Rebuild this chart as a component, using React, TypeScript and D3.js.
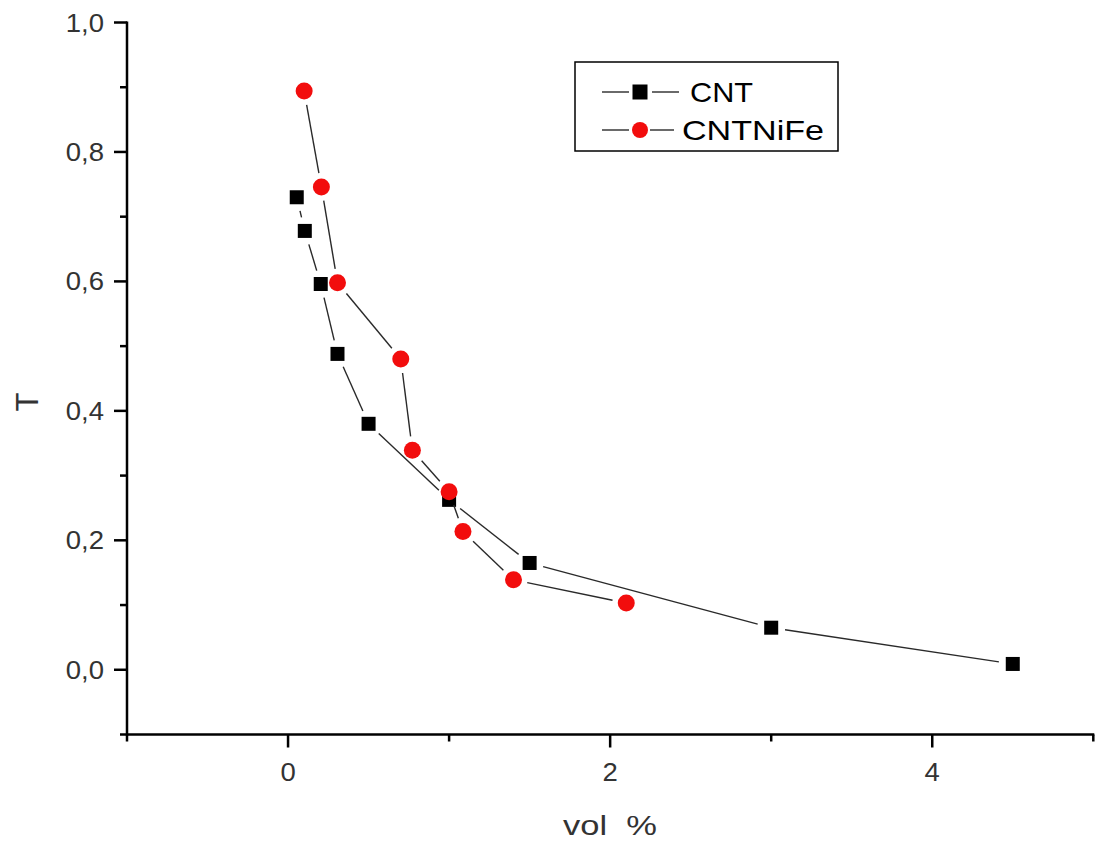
import React from "react";
import * as d3 from "d3";

const cntX = [0.054, 0.104, 0.203, 0.307, 0.5, 1.0, 1.5, 3.0, 4.5];
const cntT = [0.730, 0.678, 0.596, 0.488, 0.380, 0.2625, 0.165, 0.065, 0.009];

const nifeX = [0.1, 0.207, 0.307, 0.70, 0.772, 1.0, 1.086, 1.40, 2.10];
const nifeT = [0.894, 0.746, 0.598, 0.480, 0.339, 0.275, 0.2136, 0.139, 0.103];

const xMajor = [0, 2, 4];
const xMinor = [-1, 1, 3, 5];
const yMajor = [0, 0.2, 0.4, 0.6, 0.8, 1.0];
const yMinor = [-0.1, 0.1, 0.3, 0.5, 0.7, 0.9];

const seriesNames = ["CNT", "CNTNiFe"];

const W = 1097;
const H = 843;
const left = 127;
const right = 1093.3;
const top = 22.5;
const bottom = 734.5;

const FONT = "'Liberation Sans', Arial, sans-serif";

export default function App() {
  const x = d3.scaleLinear().domain([-1, 5]).range([left, right]);
  const y = d3.scaleLinear().domain([-0.1, 1.0]).range([bottom, top]);
  const fmtY = (v: number) => d3.format(".1f")(v).replace(".", ",");

  const segs = (xs: number[], ys: number[], gap: number) => {
    const pts = xs.map((v, i) => [x(v), y(ys[i])]);
    const out: string[] = [];
    for (let i = 0; i < pts.length - 1; i++) {
      const [x1, y1] = pts[i];
      const [x2, y2] = pts[i + 1];
      const dx = x2 - x1, dy = y2 - y1;
      const L = Math.hypot(dx, dy);
      if (L <= 2 * gap) continue;
      const ux = dx / L, uy = dy / L;
      const p = d3.path();
      p.moveTo(x1 + ux * gap, y1 + uy * gap);
      p.lineTo(x2 - ux * gap, y2 - uy * gap);
      out.push(p.toString());
    }
    return out;
  };

  const sq = 14;
  const cr = 8.5;
  const lineColor = "#2a2a2a";

  return (
    <svg width={W} height={H} style={{ position: "absolute", left: 0, top: 0, background: "#fff" }}>
      <rect width={W} height={H} fill="#fff" />
      {/* axes */}
      <line x1={left} x2={left} y1={top - 1} y2={bottom + 1} stroke="#000" strokeWidth={2.5} />
      <line x1={left - 1} x2={right + 1} y1={bottom} y2={bottom} stroke="#000" strokeWidth={2.5} />
      {yMajor.map((v) => (
        <g key={"ym" + v}>
          <line x1={left - 13} x2={left} y1={y(v)} y2={y(v)} stroke="#000" strokeWidth={2.5} />
          <text
            transform={`translate(${left - 23},${y(v) + 9}) scale(1.1,1)`}
            textAnchor="end"
            fontFamily={FONT}
            fontSize={25}
            fill="#333"
          >
            {fmtY(v)}
          </text>
        </g>
      ))}
      {yMinor.map((v) => (
        <line key={"yn" + v} x1={left - 7} x2={left} y1={y(v)} y2={y(v)} stroke="#000" strokeWidth={2.5} />
      ))}
      {xMajor.map((v) => (
        <g key={"xm" + v}>
          <line x1={x(v)} x2={x(v)} y1={bottom} y2={bottom + 13} stroke="#000" strokeWidth={2.5} />
          <text
            transform={`translate(${x(v)},${bottom + 46}) scale(1.1,1)`}
            textAnchor="middle"
            fontFamily={FONT}
            fontSize={25}
            fill="#333"
          >
            {String(v)}
          </text>
        </g>
      ))}
      {xMinor.map((v) => (
        <line key={"xn" + v} x1={x(v)} x2={x(v)} y1={bottom} y2={bottom + 7} stroke="#000" strokeWidth={2.5} />
      ))}
      {/* axis titles */}
      <text
        x={610}
        y={835}
        textAnchor="middle"
        fontFamily={FONT}
        fontSize={27}
        fill="#333"
        textLength={94}
        lengthAdjust="spacingAndGlyphs"
        style={{ whiteSpace: "pre" }}
        xmlSpace="preserve"
      >
        {"vol  %"}
      </text>
      <text
        transform="translate(38,402) rotate(-90)"
        textAnchor="middle"
        fontFamily={FONT}
        fontSize={31}
        fill="#333"
      >
        T
      </text>

      {/* CNT series */}
      {segs(cntX, cntT, 14).map((d, i) => (
        <path key={"cl" + i} d={d} stroke={lineColor} strokeWidth={1.4} fill="none" />
      ))}
      {cntX.map((v, i) => (
        <rect key={"cs" + i} x={x(v) - sq / 2} y={y(cntT[i]) - sq / 2} width={sq} height={sq} fill="#000" />
      ))}
      {/* CNTNiFe series */}
      {segs(nifeX, nifeT, 14).map((d, i) => (
        <path key={"nl" + i} d={d} stroke={lineColor} strokeWidth={1.4} fill="none" />
      ))}
      {nifeX.map((v, i) => (
        <circle key={"nc" + i} cx={x(v)} cy={y(nifeT[i])} r={cr} fill="#f20d0d" />
      ))}

      {/* legend */}
      <rect x={575} y={62} width={263} height={89} fill="#fff" stroke="#000" strokeWidth={1.5} />
      <line x1={602} x2={629} y1={92} y2={92} stroke={lineColor} strokeWidth={1.4} />
      <rect x={640 - 7.5} y={92 - 7.5} width={15} height={15} fill="#000" />
      <line x1={652} x2={679} y1={92} y2={92} stroke={lineColor} strokeWidth={1.4} />
      <text x={690} y={102} fontFamily={FONT} fontSize={28} fill="#000" textLength={63} lengthAdjust="spacingAndGlyphs">
        {seriesNames[0]}
      </text>
      <line x1={602} x2={629} y1={130} y2={130} stroke={lineColor} strokeWidth={1.4} />
      <circle cx={640} cy={130} r={8} fill="#f20d0d" />
      <line x1={650} x2={674} y1={130} y2={130} stroke={lineColor} strokeWidth={1.4} />
      <text x={682} y={140} fontFamily={FONT} fontSize={28} fill="#000" textLength={142} lengthAdjust="spacingAndGlyphs">
        {seriesNames[1]}
      </text>
    </svg>
  );
}
